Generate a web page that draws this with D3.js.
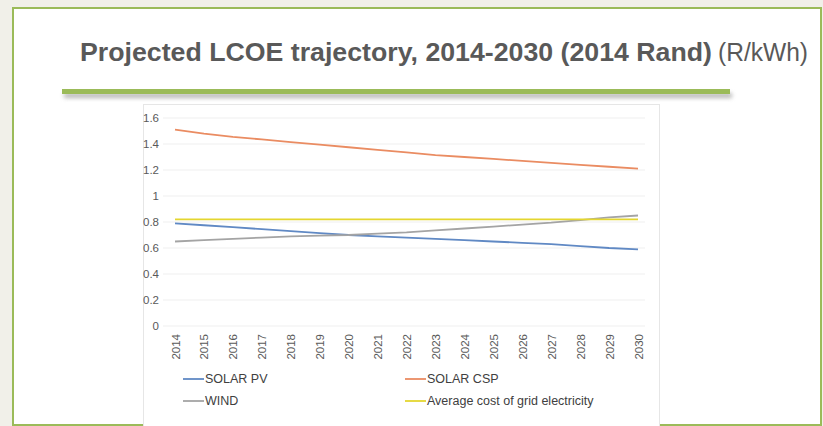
<!DOCTYPE html>
<html>
<head>
<meta charset="utf-8">
<script src="https://cdn.jsdelivr.net/npm/d3@7"></script>
<style>
  body { margin: 0; background: #f1f0e9; }
  svg { display: block; }
</style>
</head>
<body>
<div id="chart"></div>
<script>
// data
const years = d3.range(2014, 2031);
const solarPV = [0.79, 0.775, 0.76, 0.745, 0.73, 0.715, 0.70, 0.69, 0.68, 0.67, 0.66, 0.65, 0.64, 0.63, 0.615, 0.60, 0.59];
const solarCSP = [1.51, 1.48, 1.455, 1.435, 1.415, 1.395, 1.375, 1.355, 1.335, 1.315, 1.30, 1.285, 1.27, 1.255, 1.24, 1.225, 1.21];
const wind = [0.65, 0.66, 0.67, 0.68, 0.69, 0.695, 0.70, 0.71, 0.72, 0.735, 0.75, 0.765, 0.78, 0.795, 0.815, 0.835, 0.85];
const gridCost = [0.82, 0.82, 0.82, 0.82, 0.82, 0.82, 0.82, 0.82, 0.82, 0.82, 0.82, 0.82, 0.82, 0.82, 0.82, 0.82, 0.82];
const yTicks = [0, 0.2, 0.4, 0.6, 0.8, 1, 1.2, 1.4, 1.6];

const series = [
  { name: "SOLAR PV", values: solarPV, color: "#6089c4" },
  { name: "SOLAR CSP", values: solarCSP, color: "#ea8c62" },
  { name: "WIND", values: wind, color: "#a4a4a4" },
  { name: "Average cost of grid electricity", values: gridCost, color: "#e4d630" }
];

const W = 823, H = 426;
const font = "Liberation Sans, Arial, sans-serif";

const svg = d3.select("#chart")
  .append("svg")
  .attr("width", W)
  .attr("height", H);

// white panel with green border
svg.append("rect")
  .attr("x", 13)
  .attr("y", 8)
  .attr("width", 808)
  .attr("height", 417)
  .attr("fill", "white")
  .attr("stroke", "#9bbb59")
  .attr("stroke-width", 2);

// title (two parts, bold + normal)
svg.append("text")
  .attr("x", 80)
  .attr("y", 61)
  .attr("font-family", font)
  .attr("font-size", "26px")
  .attr("font-weight", "bold")
  .attr("fill", "#595959")
  .attr("textLength", 632)
  .attr("lengthAdjust", "spacingAndGlyphs")
  .text("Projected LCOE trajectory, 2014-2030 (2014 Rand)");

svg.append("text")
  .attr("x", 718)
  .attr("y", 61)
  .attr("font-family", font)
  .attr("font-size", "26px")
  .attr("fill", "#595959")
  .attr("textLength", 90)
  .attr("lengthAdjust", "spacingAndGlyphs")
  .text("(R/kWh)");

// green rule with a soft shadow
const defs = svg.append("defs");
const blur = defs.append("filter").attr("id", "shadow").attr("x", "-5%").attr("y", "-100%").attr("width", "110%").attr("height", "400%");
blur.append("feGaussianBlur").attr("stdDeviation", 2);
svg.append("rect")
  .attr("x", 64).attr("y", 93).attr("width", 668).attr("height", 5)
  .attr("fill", "#888").attr("opacity", 0.6)
  .attr("filter", "url(#shadow)");
svg.append("rect")
  .attr("x", 62).attr("y", 89).attr("width", 668).attr("height", 5)
  .attr("fill", "#9bbb59");

// embedded chart box
svg.append("rect")
  .attr("x", 143.5).attr("y", 104.5).attr("width", 516).attr("height", 330)
  .attr("fill", "white")
  .attr("stroke", "#e6e6e6");

const x = d3.scalePoint()
  .domain(years)
  .range([175, 638]);

const y = d3.scaleLinear()
  .domain([0, 1.6])
  .range([326, 118]);

// gridlines
svg.append("g")
  .selectAll("line")
  .data(yTicks)
  .enter()
  .append("line")
  .attr("x1", 163)
  .attr("x2", 645)
  .attr("y1", d => y(d))
  .attr("y2", d => y(d))
  .attr("stroke", "#efefef");

// y axis labels
svg.append("g")
  .attr("transform", "translate(159,0)")
  .call(d3.axisLeft(y).tickValues(yTicks).tickSize(0).tickPadding(0).tickFormat(d3.format("")))
  .call(g => g.select(".domain").remove())
  .selectAll("text")
  .attr("font-family", font)
  .attr("font-size", "11.5px")
  .attr("fill", "#595959");

// x axis labels
svg.append("g")
  .attr("transform", "translate(0,334)")
  .call(d3.axisBottom(x).tickSize(0).tickFormat(d3.format("d")))
  .call(g => g.select(".domain").remove())
  .selectAll("text")
  .attr("font-family", font)
  .attr("font-size", "11.5px")
  .attr("fill", "#595959")
  .attr("transform", "rotate(-90)")
  .attr("text-anchor", "end")
  .attr("x", 0)
  .attr("y", 0)
  .attr("dx", 0)
  .attr("dy", "0.35em");

// lines
const line = d3.line()
  .x((d, i) => x(years[i]))
  .y(d => y(d));

svg.selectAll(".series")
  .data(series)
  .enter()
  .append("path")
  .attr("class", "series")
  .attr("d", d => line(d.values))
  .attr("fill", "none")
  .attr("stroke", d => d.color)
  .attr("stroke-width", 1.8);

// legend
const legend = svg.selectAll(".legend")
  .data(series)
  .enter()
  .append("g")
  .attr("class", "legend")
  .attr("transform", (d, i) => `translate(${i % 2 === 0 ? 183 : 405}, ${i < 2 ? 379 : 401})`);

legend.append("line")
  .attr("x1", 0)
  .attr("x2", 21)
  .attr("stroke", d => d.color)
  .attr("stroke-width", 1.8);

legend.append("text")
  .attr("x", 22)
  .attr("dy", "0.35em")
  .attr("font-family", font)
  .attr("font-size", "12.5px")
  .attr("fill", "#404040")
  .text(d => d.name);
</script>
</body>
</html>
